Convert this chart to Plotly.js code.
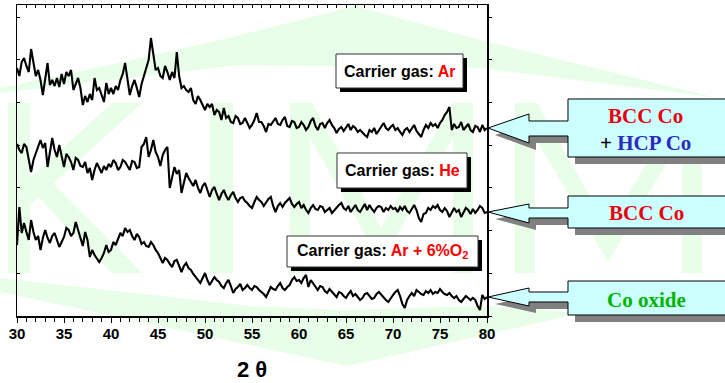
<!DOCTYPE html>
<html>
<head>
<meta charset="utf-8">
<script src="https://cdn.plot.ly/plotly-3.0.1.min.js"></script>
<style>html,body{margin:0;padding:0;background:#fff;}#chart{width:725px;height:383px;}</style>
</head>
<body>
<div id="chart"></div>
<script>
// 2θ grid: 30° to 80° in 0.25° steps
const thetaStart = 30, thetaStep = 0.25, nPoints = 201;
const twoTheta = [];
for (let i = 0; i < nPoints; i++) twoTheta.push(thetaStart + i * thetaStep);

// Intensity (a.u., stacked)
const intensityAr = [
 248,240,254,258,250,244,267,252,240,246,236,221,240,253,231,236,230,238,229,242,
 232,244,240,246,226,232,238,228,211,220,214,222,216,238,226,228,222,214,233,222,
 228,222,230,226,236,242,253,238,221,230,236,228,219,232,239,248,256,278,262,246,
 248,240,238,250,244,236,244,238,264,240,228,230,226,224,228,216,212,220,216,210,
 206,212,209,212,201,206,204,196,208,198,200,194,193,200,198,192,193,198,193,188,
 191,196,203,194,194,190,184,192,191,194,198,192,191,196,199,190,189,195,194,188,
 189,194,191,186,189,195,198,190,186,192,193,188,193,196,191,188,183,187,189,185,
 189,192,186,190,188,184,186,183,181,179,186,184,188,182,186,190,193,188,186,189,
 191,186,188,184,181,186,188,184,188,191,185,182,179,186,191,188,193,190,192,188,
 193,196,201,204,209,186,192,188,189,194,186,189,192,186,184,190,189,184,191,186,
 188];
const intensityHe = [
 172,166,163,172,169,158,144,156,163,170,176,168,173,149,162,178,166,159,171,160,
 149,162,159,154,146,158,156,150,149,154,143,148,136,146,153,148,143,150,146,152,
 149,156,153,146,149,156,154,150,146,155,154,148,149,169,172,179,159,166,176,164,
 159,150,161,166,169,128,138,149,142,146,123,134,143,138,134,130,136,128,123,130,
 133,126,119,126,129,122,116,122,126,120,116,121,124,118,114,118,119,115,113,110,
 108,114,119,116,114,110,114,117,119,110,104,110,113,109,113,116,118,112,109,112,
 114,108,111,106,103,108,111,107,106,110,109,104,106,108,103,106,108,111,113,108,
 106,110,104,108,111,106,104,108,112,106,111,107,104,108,110,109,104,108,106,110,
 107,108,104,109,106,110,105,103,107,111,106,98,94,102,103,108,106,110,108,111,
 106,104,108,105,99,104,108,104,106,99,104,108,106,102,107,103,106,110,108,103,
 104];
const intensityArO2 = [
 71,109,83,93,84,76,96,84,76,80,66,78,86,78,73,80,83,76,69,74,
 79,88,86,80,83,94,86,76,70,84,76,59,66,61,58,54,58,63,71,64,
 66,74,71,78,83,80,88,84,86,80,76,82,79,72,74,70,69,74,71,66,
 63,58,53,58,56,52,49,55,56,50,44,50,53,48,46,42,39,36,33,38,
 43,36,31,35,39,36,34,30,28,33,36,30,23,27,29,32,26,28,31,28,
 26,30,29,26,24,22,19,25,29,27,26,30,33,28,26,29,31,36,39,35,
 36,33,38,41,29,36,33,30,26,30,29,25,23,27,24,21,19,24,23,20,
 18,22,25,20,22,19,16,18,22,23,20,17,18,22,24,21,18,16,14,18,
 21,24,26,20,12,8,16,20,23,20,26,24,22,21,25,23,26,22,24,23,
 27,24,22,21,23,20,18,20,16,14,17,20,18,16,18,16,10,6,21,17,
 19];

const xRange = [30, 80];
const yRange = [0, 311];
const xTickLabels = ['30','35','40','45','50','55','60','65','70','75','80'];
const xTickVals = [30,35,40,45,50,55,60,65,70,75,80];

// ---- layout geometry helpers (pixels -> paper) ----
const W = 725, H = 383;
const L = 17, R = 487, T = 5, B = 316;
const pxX = x => (x - L) / (R - L);
const pxY = y => (B - y) / (B - T);
const valToPy = v => B - (v - yRange[0]) / (yRange[1] - yRange[0]) * (B - T);
function poly(pts, dx, dy) {
  dx = dx || 0; dy = dy || 0;
  return 'M' + pts.map(p => pxX(p[0] + dx).toFixed(5) + ',' + pxY(p[1] + dy).toFixed(5)).join('L') + 'Z';
}

const shapes = [];
const wm = '#e8fee8';
function wmPoly(pts) {
  shapes.push({type:'path', xref:'paper', yref:'paper', path: poly(pts), fillcolor: wm, line:{width:0}, layer:'below'});
}
// watermark (KIMM logo)
wmPoly([[0,88],[100,67],[220,40],[355,6],[480,40],[713,97],[480,68],[240,65],[0,93]]);
wmPoly([[0,278],[250,306],[345,310],[490,306],[582,313],[347,366],[0,292]]);
wmPoly([[8,103],[30,103],[30,273],[8,273]]);
wmPoly([[30,178],[112,103],[142,103],[30,205]]);
wmPoly([[48,178],[142,273],[112,273],[36,195]]);
wmPoly([[210,103],[233,103],[233,273],[210,273]]);
wmPoly([[290,103],[310,103],[310,273],[290,273]]);
wmPoly([[453,103],[473,103],[473,273],[453,273]]);
wmPoly([[290,103],[312,103],[381,228],[453,103],[473,103],[381,262]]);
wmPoly([[515,103],[535,103],[535,273],[515,273]]);
wmPoly([[682,103],[702,103],[702,273],[682,273]]);
wmPoly([[515,103],[537,103],[608,228],[682,103],[702,103],[608,262]]);

// label boxes with black drop shadow
function labelBox(x0, y0, x1, y1) {
  const off = 4;
  shapes.push({type:'path', xref:'paper', yref:'paper', path: poly([[x0,y0],[x1,y0],[x1,y1],[x0,y1]], off, off), fillcolor:'#000', line:{width:0}, layer:'above'});
  shapes.push({type:'path', xref:'paper', yref:'paper', path: poly([[x0,y0],[x1,y0],[x1,y1],[x0,y1]]), fillcolor:'#fff', line:{width:1, color:'#333'}, layer:'above'});
}
labelBox(336, 54, 463, 88);
labelBox(337, 153, 467, 188);
labelBox(287, 236, 478, 267);

// callout arrows pointing at the end of each pattern
function callout(by0, by1, series, shaftUp, shaftDn, headUp, headDn) {
  const tipY = valToPy(series[series.length - 1]);
  const tipX = R + 1, headX = 529, boxX = 568, boxR = 732;
  const pts = [[boxX,by0],[boxR,by0],[boxR,by1],[boxX,by1],[boxX,tipY+shaftDn],[headX,tipY+shaftDn],[headX,tipY+headDn],[tipX,tipY],[headX,tipY-headUp],[headX,tipY-shaftUp],[boxX,tipY-shaftUp]];
  shapes.push({type:'path', xref:'paper', yref:'paper', path: poly(pts, 7, 7), fillcolor:'#808080', line:{width:0}, layer:'above'});
  shapes.push({type:'path', xref:'paper', yref:'paper', path: poly(pts), fillcolor:'#ccffff', line:{width:1, color:'#000'}, layer:'above'});
}
callout(99, 157, intensityAr, 7, 8, 14, 15);
callout(196, 228, intensityHe, 4, 6, 8, 11);
callout(281, 315, intensityArO2, 5, 5, 9, 9);

const sansB = {family:'"Liberation Sans", Arial, sans-serif', size:16, color:'#000'};
const serifB = {family:'"Liberation Serif", "Times New Roman", serif', size:21, color:'#000'};
const annotations = [
  {x:pxX(399.5), y:pxY(71), text:'<b>Carrier gas: <span style="color:#ff0000">Ar</span></b>', font:sansB},
  {x:pxX(402), y:pxY(170.5), text:'<b>Carrier gas: <span style="color:#ff0000">He</span></b>', font:sansB},
  {x:pxX(382.5), y:pxY(251.5), text:'<b>Carrier gas: <span style="color:#ff0000">Ar + 6%O<sub>2</sub></span></b>', font:sansB},
  {x:pxX(645), y:pxY(129.5), text:'<b><span style="color:#e8000e">BCC Co</span><br>+ <span style="color:#2b2bbf">HCP Co</span></b>', font:serifB},
  {x:pxX(646), y:pxY(213), text:'<b><span style="color:#e8000e">BCC Co</span></b>', font:serifB},
  {x:pxX(646), y:pxY(300), text:'<b><span style="color:#00b400">Co oxide</span></b>', font:serifB}
].map(a => Object.assign({xref:'paper', yref:'paper', showarrow:false, xanchor:'center', yanchor:'middle'}, a));

const lineStyle = {color:'#000', width:2.1};
const data = [
  {x:twoTheta, y:intensityAr, type:'scatter', mode:'lines', line:lineStyle, name:'Ar', hoverinfo:'skip'},
  {x:twoTheta, y:intensityHe, type:'scatter', mode:'lines', line:lineStyle, name:'He', hoverinfo:'skip'},
  {x:twoTheta, y:intensityArO2, type:'scatter', mode:'lines', line:lineStyle, name:'Ar + 6%O2', hoverinfo:'skip'},
  {x:[null], y:[null], xaxis:'x2', yaxis:'y2', type:'scatter', mode:'lines', showlegend:false, hoverinfo:'skip'}
];

const axisCommon = {showgrid:false, zeroline:false, showline:true, linecolor:'#000', linewidth:1.5, tickcolor:'#000', tickwidth:1, automargin:false, fixedrange:true};
const layout = {
  width:W, height:H,
  margin:{l:L, r:W-R, t:T, b:H-B, pad:0},
  paper_bgcolor:'#fff', plot_bgcolor:'rgba(0,0,0,0)',
  showlegend:false,
  xaxis:Object.assign({}, axisCommon, {
    range:xRange, tickmode:'array', tickvals:xTickVals, ticktext:xTickLabels,
    ticks:'outside', ticklen:5, ticklabelstandoff:-2,
    minor:{dtick:1, tick0:30, ticks:'outside', ticklen:4, tickcolor:'#000'},
    tickfont:{family:'"Liberation Sans", Arial, sans-serif', size:15, color:'#000', weight:'bold'},
    title:{text:'2 θ', font:{family:'"Liberation Sans", Arial, sans-serif', size:22, color:'#000', weight:'bold'}, standoff:21}
  }),
  xaxis2:Object.assign({}, axisCommon, {
    overlaying:'x', side:'top', range:xRange, tick0:30, dtick:5, ticks:'inside', ticklen:3,
    minor:{dtick:1, tick0:30, ticks:'inside', ticklen:3, tickcolor:'#000'},
    showticklabels:false
  }),
  yaxis:Object.assign({}, axisCommon, {
    range:yRange, tick0:0, dtick:42.7, ticks:'inside', ticklen:3, showticklabels:false
  }),
  yaxis2:Object.assign({}, axisCommon, {
    overlaying:'y', side:'right', range:yRange, tick0:0, dtick:42.7, ticks:'outside', ticklen:3, showticklabels:false
  }),
  shapes:shapes,
  annotations:annotations
};

Plotly.newPlot('chart', data, layout, {staticPlot:true, displayModeBar:false});
</script>
</body>
</html>
